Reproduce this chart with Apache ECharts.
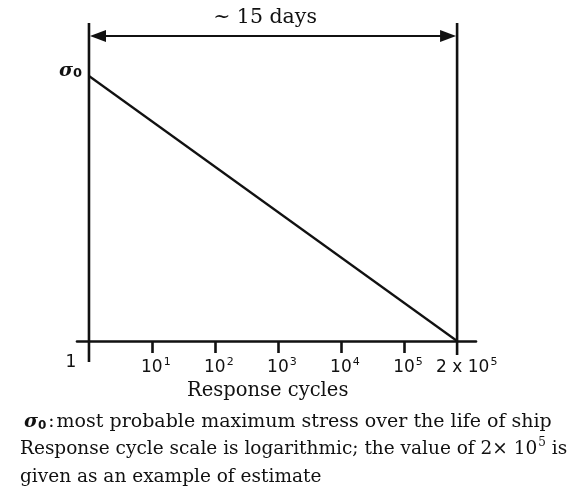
<!DOCTYPE html>
<html><head><meta charset="utf-8">
<script src="https://cdn.jsdelivr.net/npm/echarts@6/dist/echarts.min.js"></script>
<style>html,body{margin:0;padding:0;background:#fff}#c{width:576px;height:488px}</style>
</head><body><div id="c"></div>
<script>
// x positions are log10(cycles) as drawn on the axis
const tickPos = [1, 2, 3, 4, 5];
const tickExp = ['1', '2', '3', '4', '5'];
const originLabel = '1';
const endPos = 5.84;            // where 2×10^5 sits on the drawn axis
const endLabelBase = '2 x 10';
const endLabelExp = '5';
// stress line: σ0 (=1) at 1 cycle down to 0 at 2×10^5
const stressLine = [[0, 1], [5.84, 0]];
const arrowLevel = 1.151;
const spanTitle = '~ 15 days';
const xTitle = 'Response cycles';
const note1 = 'most probable maximum stress over the life of ship';
const note2a = 'Response cycle scale is logarithmic; the value of 2× 10';
const note2b = '5';
const note2c = ' is';
const note3 = 'given as an example of estimate';

const SERIF = 'DejaVu Serif';
const SANS = 'DejaVu Sans';
const INK = '#111';
const NOTE_FS = 18.5;

const chart = echarts.init(document.getElementById('c'), null, {renderer: 'canvas'});

const supRich = {
  b: {fontFamily: SANS, fontSize: 17, lineHeight: 22, fill: INK},
  s: {fontFamily: SANS, fontSize: 11, lineHeight: 11, padding: [0, 0, 12, 1], fill: INK}
};

function renderFrame(params, api) {
  const c = (x, y) => api.coord([x, y]);
  const st = {stroke: INK, lineWidth: 2.6};
  const kids = [];
  const yTop = 1.2;
  let a = c(0, yTop), b = c(0, 0);
  kids.push({type: 'line', shape: {x1: a[0], y1: a[1], x2: b[0], y2: b[1] + 21}, style: st});
  a = c(endPos, yTop); b = c(endPos, 0);
  kids.push({type: 'line', shape: {x1: a[0], y1: a[1], x2: b[0], y2: b[1] + 14}, style: st});
  const p0 = c(0, arrowLevel), p1 = c(endPos, arrowLevel);
  kids.push({type: 'line', shape: {x1: p0[0] + 4, y1: p0[1], x2: p1[0] - 4, y2: p1[1]}, style: {stroke: INK, lineWidth: 2}});
  kids.push({type: 'polygon', shape: {points: [[p0[0] + 1, p0[1]], [p0[0] + 17, p0[1] - 6], [p0[0] + 17, p0[1] + 6]]}, style: {fill: INK}});
  kids.push({type: 'polygon', shape: {points: [[p1[0] - 1, p1[1]], [p1[0] - 17, p1[1] - 6], [p1[0] - 17, p1[1] + 6]]}, style: {fill: INK}});
  kids.push({type: 'text', style: {text: spanTitle, x: (p0[0] + p1[0]) / 2 - 8, y: p0[1] - 18, align: 'center', verticalAlign: 'middle', fontFamily: SERIF, fontSize: 20.5, fill: INK}});
  const s0 = c(0, 1);
  kids.push({type: 'text', style: {text: '{g|σ}{z|0}', x: s0[0] - 7, y: s0[1] - 5, align: 'right', verticalAlign: 'middle',
    rich: {g: {fontFamily: SERIF, fontStyle: 'italic', fontWeight: 'bold', fontSize: 19, fill: INK},
           z: {fontFamily: SANS, fontWeight: 'bold', fontSize: 13, fill: INK, verticalAlign: 'bottom'}}}});
  const o = c(0, 0);
  kids.push({type: 'text', style: {text: originLabel, x: o[0] - 18, y: o[1] + 22, align: 'center', verticalAlign: 'middle', fontFamily: SANS, fontSize: 17, fill: INK}});
  tickPos.forEach((t, i) => {
    const p = c(t, 0);
    kids.push({type: 'text', style: {text: '{b|10}{s|' + tickExp[i] + '}', x: p[0] - 11, y: p[1] + 27, align: 'left', verticalAlign: 'middle', rich: supRich}});
  });
  const e = c(endPos, 0);
  kids.push({type: 'text', style: {text: '{b|' + endLabelBase + '}{s|' + endLabelExp + '}', x: e[0] - 21, y: e[1] + 27, align: 'left', verticalAlign: 'middle', rich: supRich}});
  return {type: 'group', children: kids};
}

chart.setOption({
  animation: false,
  backgroundColor: '#fff',
  grid: {left: 77, right: 100, top: 23, bottom: 147, containLabel: false},
  xAxis: {
    type: 'value', min: -0.19, max: 6.14,
    axisLine: {show: true, onZero: false, lineStyle: {color: INK, width: 2.6}},
    axisTick: {show: true, customValues: tickPos, length: 12, inside: false, lineStyle: {color: INK, width: 2.6}},
    axisLabel: {show: false},
    splitLine: {show: false}
  },
  yAxis: {
    type: 'value', min: 0, max: 1.2,
    axisLine: {show: false}, axisTick: {show: false}, axisLabel: {show: false}, splitLine: {show: false}
  },
  graphic: [
    {type: 'text', left: 187, top: 381, style: {text: xTitle, fontFamily: SERIF, fontSize: 19.5, fill: INK}},
    {type: 'text', left: 24, top: 413, style: {text: '{g|σ}{z|0}{c|:}{t|' + note1 + '}',
      rich: {g: {fontFamily: SERIF, fontStyle: 'italic', fontWeight: 'bold', fontSize: 19, fill: INK},
             z: {fontFamily: SANS, fontWeight: 'bold', fontSize: 12, fill: INK, verticalAlign: 'bottom'},
             c: {fontFamily: SERIF, fontSize: NOTE_FS, fill: INK, padding: [0, 2, 0, 2]},
             t: {fontFamily: SERIF, fontSize: 19, fill: INK}}}},
    {type: 'text', left: 20, top: 437, style: {text: '{t|' + note2a + '}{s|' + note2b + '}{t|' + note2c + '}',
      rich: {t: {fontFamily: SERIF, fontSize: NOTE_FS, lineHeight: 24, fill: INK},
             s: {fontFamily: SERIF, fontSize: 12, lineHeight: 12, padding: [0, 0, 12, 1], fill: INK}}}},
    {type: 'text', left: 20, top: 468, style: {text: note3, fontFamily: SERIF, fontSize: NOTE_FS, fill: INK}}
  ],
  series: [
    {type: 'line', data: stressLine, symbol: 'none', lineStyle: {color: INK, width: 2.2}, z: 3},
    {type: 'custom', data: [[0, 0]], renderItem: renderFrame, z: 4, silent: true}
  ]
});
</script></body></html>
